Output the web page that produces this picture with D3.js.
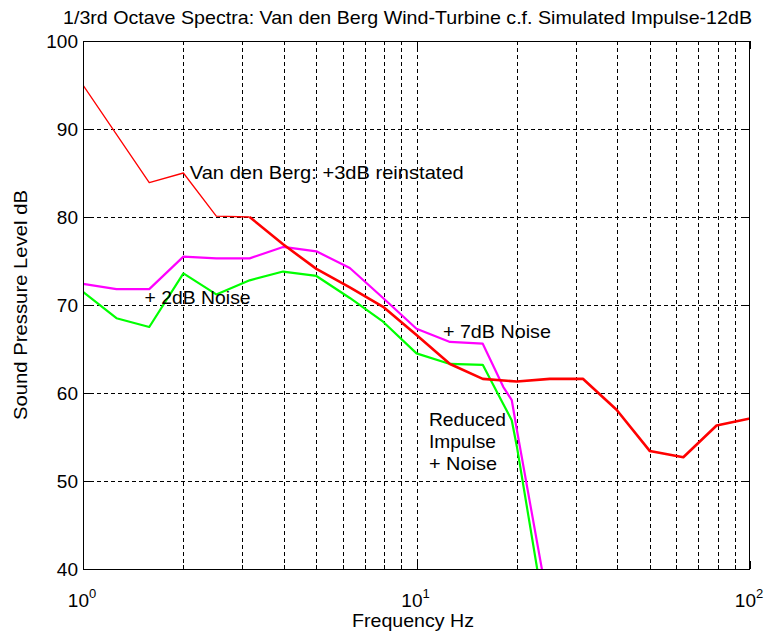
<!DOCTYPE html>
<html>
<head>
<meta charset="utf-8">
<script src="https://cdn.jsdelivr.net/npm/d3@7"></script>
<style>
  html, body { margin: 0; padding: 0; background: #fff; }
  svg { display: block; }
  text { font-family: "Liberation Sans Narrow", "Arial Narrow", "Liberation Sans", Arial, sans-serif; fill: #000; }
</style>
</head>
<body>
<svg id="chart" width="765" height="632"></svg>
<script>
// ---- data ----
const title = "1/3rd Octave Spectra: Van den Berg Wind-Turbine c.f. Simulated Impulse-12dB";
const xLabel = "Frequency Hz";
const yLabel = "Sound Pressure Level dB";

const redFreq = [1, 1.26, 1.58, 2, 2.51, 3.16, 3.98, 5.01, 6.31, 7.94, 10, 12.6, 15.8, 20, 25.1, 31.6, 39.8, 50.1, 63.1, 79.4, 100];
const redLevel = [95.0, 89.4, 83.9, 85.0, 80.1, 80.0, 76.9, 74.1, 72.0, 69.8, 66.6, 63.3, 61.6, 61.3, 61.6, 61.6, 58.1, 53.4, 52.7, 56.3, 57.1];

const magentaFreq = [1, 1.26, 1.58, 2, 2.51, 3.16, 3.98, 5.01, 6.31, 7.94, 10, 12.6, 15.8, 18.2, 19.3, 20, 25.1];
const magentaLevel = [72.4, 71.8, 71.8, 75.5, 75.3, 75.3, 76.6, 76.1, 74.2, 70.8, 67.3, 65.8, 65.6, 60.7, 59.2, 55.8, 35.0];

const greenFreq = [1, 1.26, 1.58, 2, 2.51, 3.16, 3.98, 5.01, 6.31, 7.94, 10, 12.6, 15.8, 17.6, 19.3, 20, 25.1];
const greenLevel = [71.5, 68.5, 67.5, 73.6, 71.2, 72.8, 73.8, 73.3, 70.8, 68.1, 64.5, 63.3, 63.2, 59.8, 56.9, 53.9, 31.4];

const yTicks = [40, 50, 60, 70, 80, 90, 100];
const xMajorTicks = [1, 10, 100];
const xMajorExp = ["0", "1", "2"];
const xMinorTicks = [2, 3, 4, 5, 6, 7, 8, 9, 20, 30, 40, 50, 60, 70, 80, 90];

const annotations = [
  { text: "Van den Berg: +3dB reinstated", f: 2.09, v: 84.3, w: 274 },
  { text: "+ 2dB Noise", f: 1.53, v: 70.1, w: 106 },
  { text: "+ 7dB Noise", f: 12.0, v: 66.3, w: 108 },
  { text: "Reduced", f: 10.9, v: 56.2, w: 77 },
  { text: "Impulse", f: 10.9, v: 53.8, w: 67 },
  { text: "+ Noise", f: 10.9, v: 51.3, w: 68 }
];

// ---- layout ----
const svg = d3.select("#chart");
const L = 83, R = 750, T = 41, B = 569;
const x = d3.scaleLog().domain([1, 100]).range([L, R]);
const y = d3.scaleLinear().domain([40, 100]).range([B, T]);

svg.append("defs").append("clipPath").attr("id", "plotclip")
  .append("rect").attr("x", L).attr("y", T).attr("width", R - L).attr("height", B - T);

// grid
const grid = svg.append("g").attr("stroke", "#000").attr("stroke-width", 1)
  .attr("stroke-dasharray", "4,3").attr("shape-rendering", "crispEdges");
grid.selectAll("line.gx").data(xMinorTicks.concat([10])).join("line")
  .attr("x1", d => Math.round(x(d)) + 0.5).attr("x2", d => Math.round(x(d)) + 0.5)
  .attr("y1", T).attr("y2", B);
grid.selectAll("line.gy").data(yTicks.filter(v => v > 40 && v < 100)).join("line")
  .attr("class", "gy")
  .attr("x1", L).attr("x2", R)
  .attr("y1", d => Math.round(y(d)) + 0.5).attr("y2", d => Math.round(y(d)) + 0.5);

// ticks (inward, on all sides)
const ticks = svg.append("g").attr("stroke", "#000").attr("stroke-width", 1).attr("shape-rendering", "crispEdges");
yTicks.forEach(v => {
  const yy = Math.round(y(v)) + 0.5;
  ticks.append("line").attr("x1", L).attr("x2", L + 8).attr("y1", yy).attr("y2", yy);
  ticks.append("line").attr("x1", R - 8).attr("x2", R).attr("y1", yy).attr("y2", yy);
});
xMajorTicks.forEach(v => {
  const xx = Math.round(x(v)) + 0.5;
  ticks.append("line").attr("x1", xx).attr("x2", xx).attr("y1", B).attr("y2", B - 8);
  ticks.append("line").attr("x1", xx).attr("x2", xx).attr("y1", T).attr("y2", T + 8);
});
xMinorTicks.forEach(v => {
  const xx = Math.round(x(v)) + 0.5;
  ticks.append("line").attr("x1", xx).attr("x2", xx).attr("y1", B).attr("y2", B - 4);
  ticks.append("line").attr("x1", xx).attr("x2", xx).attr("y1", T).attr("y2", T + 4);
});

// series
const line = d3.line().x(d => x(d[0])).y(d => y(d[1]));
const plot = svg.append("g").attr("clip-path", "url(#plotclip)").attr("fill", "none")
  .attr("stroke-linejoin", "round");

const greenPts = greenFreq.map((f, i) => [f, greenLevel[i]]);
const magentaPts = magentaFreq.map((f, i) => [f, magentaLevel[i]]);
const redPts = redFreq.map((f, i) => [f, redLevel[i]]);

plot.append("path").datum(greenPts).attr("d", line).attr("stroke", "#00ff00").attr("stroke-width", 2.2);
plot.append("path").datum(magentaPts).attr("d", line).attr("stroke", "#ff00ff").attr("stroke-width", 2.2);
plot.append("path").datum(redPts.filter(d => d[0] <= 3.16)).attr("d", line).attr("stroke", "#ff0000").attr("stroke-width", 1.3);
plot.append("path").datum(redPts.filter(d => d[0] >= 3.16)).attr("d", line).attr("stroke", "#ff0000").attr("stroke-width", 2.6);

// box
svg.append("rect").attr("x", L + 0.5).attr("y", T + 0.5).attr("width", R - L - 1).attr("height", B - T)
  .attr("fill", "none").attr("stroke", "#000").attr("stroke-width", 1).attr("shape-rendering", "crispEdges");

// y tick labels
svg.append("g").selectAll("text").data(yTicks).join("text")
  .attr("x", L - 5).attr("y", d => y(d) + 7)
  .attr("text-anchor", "end").attr("font-size", 19).text(d => d);

// x tick labels with superscript
xMajorTicks.forEach((v, i) => {
  const t = svg.append("text").attr("x", x(v) - 1).attr("y", 607).attr("font-size", 19).attr("text-anchor", "middle");
  t.append("tspan").text("10");
  t.append("tspan").attr("font-size", 13).attr("dy", -9).text(xMajorExp[i]);
});

// title and axis labels
svg.append("text").attr("x", 63).attr("y", 24).attr("font-size", 19)
  .attr("textLength", 689).attr("lengthAdjust", "spacingAndGlyphs").text(title);
svg.append("text").attr("x", 352).attr("y", 627).attr("font-size", 19)
  .attr("textLength", 122).attr("lengthAdjust", "spacingAndGlyphs").text(xLabel);
svg.append("text").attr("transform", "translate(27,420) rotate(-90)").attr("font-size", 19)
  .attr("textLength", 230).attr("lengthAdjust", "spacingAndGlyphs").text(yLabel);

// annotations
svg.append("g").selectAll("text").data(annotations).join("text")
  .attr("x", d => x(d.f)).attr("y", d => y(d.v))
  .attr("font-size", 19)
  .attr("textLength", d => d.w).attr("lengthAdjust", "spacingAndGlyphs")
  .text(d => d.text);
</script>
</body>
</html>
